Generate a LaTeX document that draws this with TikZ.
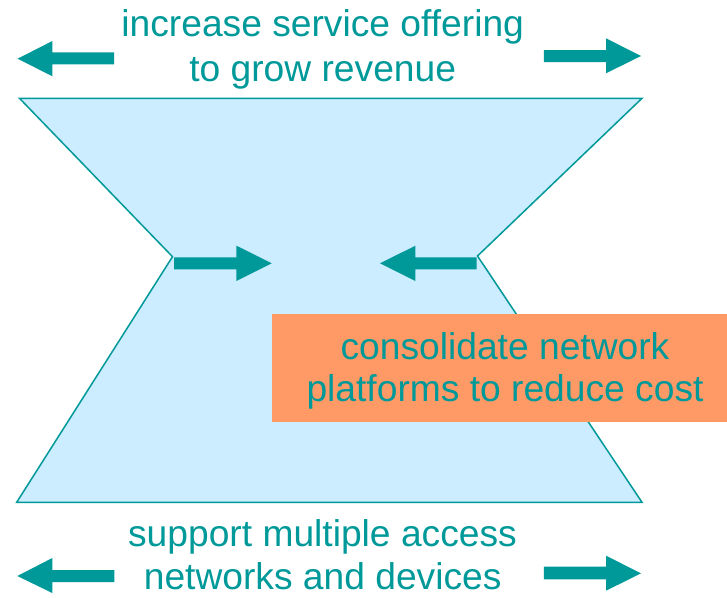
\documentclass[tikz,border=0pt]{standalone}
\usepackage{fontspec}
\setmainfont{Liberation Sans}
\definecolor{teal0}{RGB}{0,153,153}
\definecolor{funnel}{RGB}{204,236,255}
\definecolor{orange0}{RGB}{255,153,102}
\tikzset{
  blockarrow/.style={fill=teal0, draw=none},
  lbl/.style={text=teal0, font=\fontsize{37.2}{43}\selectfont, inner sep=0pt, anchor=base},
}
\begin{document}
\begin{tikzpicture}[x=1pt,y=-1pt]
\useasboundingbox (0,0) rectangle (727,597);
% funnel
\draw[teal0, line width=1.5pt, fill=funnel, line join=miter]
  (19.5,98.3) -- (642,98.3) -- (477.5,256) -- (642,502.3) -- (16.7,502.3) -- (172.5,256.7) -- cycle;
% top arrows
\fill[blockarrow] (114,52.3) -- (52.4,52.3) -- (52.4,41) -- (17.6,58.7) -- (52.4,76.3) -- (52.4,64.3) -- (114,64.3) -- cycle;
\fill[blockarrow] (543.8,50) -- (606,50) -- (606,38.3) -- (641,56) -- (606,73.3) -- (606,62) -- (543.8,62) -- cycle;
% middle arrows
\fill[blockarrow] (174,257.3) -- (236.4,257.3) -- (236.4,245.7) -- (271.7,263.3) -- (236.4,281) -- (236.4,269.3) -- (174,269.3) -- cycle;
\fill[blockarrow] (476.6,257.3) -- (415.4,257.3) -- (415.4,245.7) -- (380,263.3) -- (415.4,281) -- (415.4,269.3) -- (476.6,269.3) -- cycle;
% bottom arrows
\fill[blockarrow] (114.3,570) -- (52.3,570) -- (52.3,558) -- (17.3,576) -- (52.3,593) -- (52.3,582) -- (114.3,582) -- cycle;
\fill[blockarrow] (543.8,566.7) -- (606,566.7) -- (606,555.7) -- (641,573.3) -- (606,590.7) -- (606,579.3) -- (543.8,579.3) -- cycle;
% orange box
\node[fill=orange0, inner sep=0pt, minimum width=455pt, minimum height=108.4pt, anchor=north west] (box) at (272,313.3) {};
% texts
\node[lbl] (top1) at (322.7,36) {increase service offering};
\node[lbl] (top2) at (322.7,81) {to grow revenue};
\node[lbl] (box1) at (505,359.3) {consolidate network};
\node[lbl] (box2) at (505,401.7) {platforms to reduce cost};
\node[lbl] (bot1) at (322.5,546.7) {support multiple access};
\node[lbl] (bot2) at (322.7,589) {networks and devices};
\end{tikzpicture}
\end{document}
